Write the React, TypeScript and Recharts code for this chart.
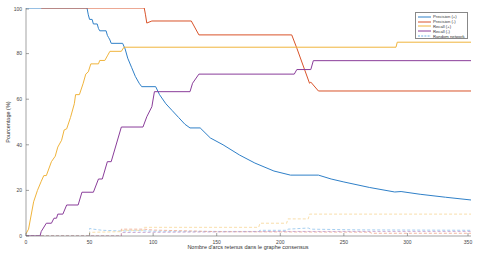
import { Label, Line, LineChart, XAxis, YAxis } from "recharts";

// Precision (+)
const precPosX = [0, 48, 49, 50, 52, 53, 56, 57, 58, 63, 64, 65, 66, 67, 76, 78, 80, 83, 86, 89, 91, 102, 105, 110, 115, 120, 125, 129, 137, 145, 155, 168, 180, 195, 208, 230, 240, 250, 270, 290, 295, 310, 330, 350];
const precPosY = [100, 100, 97, 95, 95, 93, 93, 91, 90, 90, 88, 87, 86, 84.5, 84.5, 82, 78, 74, 70, 67, 65.5, 65.5, 62, 58, 55, 52, 49, 47.4, 47.4, 43, 40, 35.5, 32, 28.5, 26.7, 26.7, 25, 23.7, 21.3, 19.3, 19.5, 18.3, 17, 15.8];

// Precision (-)
const precNegX = [12, 93, 94, 95, 99, 130, 136, 209, 213, 223, 224, 230, 350];
const precNegY = [100, 100, 97, 93.4, 94.3, 94.3, 88.2, 88.2, 82.4, 67, 67.5, 63.6, 63.6];

// Recall (+)
const recPosX = [0, 2, 6, 9, 12, 14, 16, 20, 23, 25, 28, 30, 32, 35, 38, 39, 42, 45, 47, 49, 51, 57, 58, 62, 64, 66, 75, 77, 291, 292, 350];
const recPosY = [1, 3, 15, 20, 24, 26.5, 26.5, 32.6, 35, 39, 42, 46.5, 47, 52, 58, 62, 62, 67, 71, 72, 75.5, 75.5, 77, 77, 79, 81, 81, 82.8, 82.8, 85, 85];

// Recall (-)
const recNegX = [0, 11, 12, 16, 20, 22, 24, 25, 29, 32, 41, 44, 53, 57, 60, 64, 67, 75, 92, 95, 99, 101, 129, 131, 136, 211, 213, 224, 226, 350];
const recNegY = [0, 0, 2, 5.6, 5.6, 7.8, 7.8, 9.6, 9.6, 13.6, 13.6, 19.2, 19.2, 25, 25, 32.6, 32.6, 47.8, 47.8, 52.3, 56.7, 63.3, 63.3, 67, 71, 71, 73, 73, 76.9, 76.9];

// Random network
const rndPrecPosX = [0, 50, 50, 53, 60, 75, 90, 100, 150, 183, 184, 205, 206, 222, 224, 260, 350];
const rndPrecPosY = [0, 0, 3.3, 3, 2.5, 2.2, 2.3, 2.1, 2, 2, 2.5, 2.5, 3, 3.5, 3, 2.7, 2.5];
const rndPrecNegX = [0, 75, 75, 93, 100, 130, 150, 200, 270, 272, 350];
const rndPrecNegY = [0, 0, 3, 3, 2.6, 2.2, 1.9, 1.8, 1.7, 1.2, 1.2];
const rndRecPosX = [0, 50, 50, 75, 75, 92, 93, 183, 184, 205, 206, 222, 223, 350];
const rndRecPosY = [0, 0, 1.6, 1.9, 2.5, 2.5, 3.8, 3.8, 5.6, 5.6, 7.5, 7.5, 9.6, 9.6];
const rndRecNegX = [0, 75, 75, 150, 200, 350];
const rndRecNegY = [0, 0, 1.5, 1.8, 2, 2];

const xTicks = [0, 50, 100, 150, 200, 250, 300, 350];
const yTicks = [0, 10, 20, 30, 40, 50, 60, 70, 80, 90, 100];

const zip = (xs: number[], ys: number[]) => xs.map((x, i) => ({ x, y: ys[i] }));

const FONT = "'Liberation Sans', Arial, sans-serif";
const AXIS = "#666";

const legendItems = [
  { label: "Precision (+)", color: "#2f80c8", dash: false },
  { label: "Precision (-)", color: "#d9532a", dash: false },
  { label: "Recall (+)", color: "#f0b43c", dash: false },
  { label: "Recall (-)", color: "#8a3d9a", dash: false },
  { label: "Random network", color: "#6fb2e6", dash: true },
];

function XTick(props: any) {
  const { x, y, payload } = props;
  return (
    <g>
      <line x1={x} x2={x} y1={y} y2={y - 3} stroke={AXIS} strokeWidth={0.6} />
      <text x={x} y={y + 7.5} textAnchor="middle" fontSize={5} fill="#444" fontFamily={FONT}>
        {payload.value}
      </text>
    </g>
  );
}

function YTick(props: any) {
  const { x, y, payload } = props;
  return (
    <g>
      <line x1={x} x2={x + 3} y1={y} y2={y} stroke={AXIS} strokeWidth={0.6} />
      <text x={x - 4} y={y + 1.8} textAnchor="end" fontSize={5} fill="#444" fontFamily={FONT}>
        {payload.value}
      </text>
    </g>
  );
}

function LegendBox() {
  return (
    <div
      style={{
        position: "absolute",
        left: 415,
        top: 12,
        width: 53,
        height: 27,
        border: "0.6px solid #888",
        background: "#fff",
        padding: "1.5px 0 0 2px",
        boxSizing: "border-box",
        fontFamily: FONT,
        fontSize: 4.2,
        color: "#333",
        lineHeight: "5px",
      }}
    >
      {legendItems.map((it) => (
        <div key={it.label} style={{ display: "flex", alignItems: "center", height: 4.8 }}>
          <svg width={13} height={4} style={{ marginRight: 2 }}>
            <line
              x1={0}
              x2={13}
              y1={2}
              y2={2}
              stroke={it.color}
              strokeWidth={1}
              strokeDasharray={it.dash ? "2 1.2" : undefined}
            />
          </svg>
          <span style={{ whiteSpace: "nowrap" }}>{it.label}</span>
        </div>
      ))}
    </div>
  );
}

export default function App() {
  return (
    <div style={{ position: "fixed", left: 0, top: 0, width: 480, height: 253, background: "#fff" }}>
      <LineChart width={480} height={253} margin={{ top: 8, right: 9, bottom: 0, left: 0 }}>
        <XAxis
          type="number"
          dataKey="x"
          domain={[0, 350]}
          ticks={xTicks}
          height={17}
          tickLine={false}
          tickSize={0}
          tickMargin={0}
          stroke={AXIS}
          strokeWidth={0.6}
          tick={<XTick />}
          allowDataOverflow
        >
          <Label
            content={() => (
              <text x={248} y={249} textAnchor="middle" fontSize={5.5} fill="#333" fontFamily={FONT}>
                Nombre d'arcs retenus dans le graphe consensus
              </text>
            )}
          />
        </XAxis>
        <YAxis
          type="number"
          domain={[0, 100]}
          ticks={yTicks}
          width={26}
          tickLine={false}
          tickSize={0}
          tickMargin={0}
          stroke={AXIS}
          strokeWidth={0.6}
          tick={<YTick />}
          allowDataOverflow
        >
          <Label
            content={() => (
              <text
                x={10}
                y={122}
                textAnchor="middle"
                fontSize={5.5}
                fill="#333"
                fontFamily={FONT}
                transform="rotate(-90 10 122)"
              >
                Pourcentage (%)
              </text>
            )}
          />
        </YAxis>
        <Line data={zip(rndPrecPosX, rndPrecPosY)} dataKey="y" stroke="#8fc3ec" strokeWidth={0.8} strokeDasharray="3 2" dot={false} isAnimationActive={false} />
        <Line data={zip(rndPrecNegX, rndPrecNegY)} dataKey="y" stroke="#eea48a" strokeWidth={0.8} strokeDasharray="3 2" dot={false} isAnimationActive={false} />
        <Line data={zip(rndRecPosX, rndRecPosY)} dataKey="y" stroke="#f6d595" strokeWidth={0.8} strokeDasharray="3 2" dot={false} isAnimationActive={false} />
        <Line data={zip(rndRecNegX, rndRecNegY)} dataKey="y" stroke="#c29ccc" strokeWidth={0.8} strokeDasharray="3 2" dot={false} isAnimationActive={false} />
        <Line data={zip(precPosX, precPosY)} dataKey="y" stroke="#2f80c8" strokeWidth={1} dot={false} isAnimationActive={false} />
        <Line data={zip(precNegX, precNegY)} dataKey="y" stroke="#d9532a" strokeWidth={1} dot={false} isAnimationActive={false} />
        <Line data={zip(recPosX, recPosY)} dataKey="y" stroke="#f0b43c" strokeWidth={1} dot={false} isAnimationActive={false} />
        <Line data={zip(recNegX, recNegY)} dataKey="y" stroke="#8a3d9a" strokeWidth={1} dot={false} isAnimationActive={false} />
      </LineChart>
      <LegendBox />
    </div>
  );
}
